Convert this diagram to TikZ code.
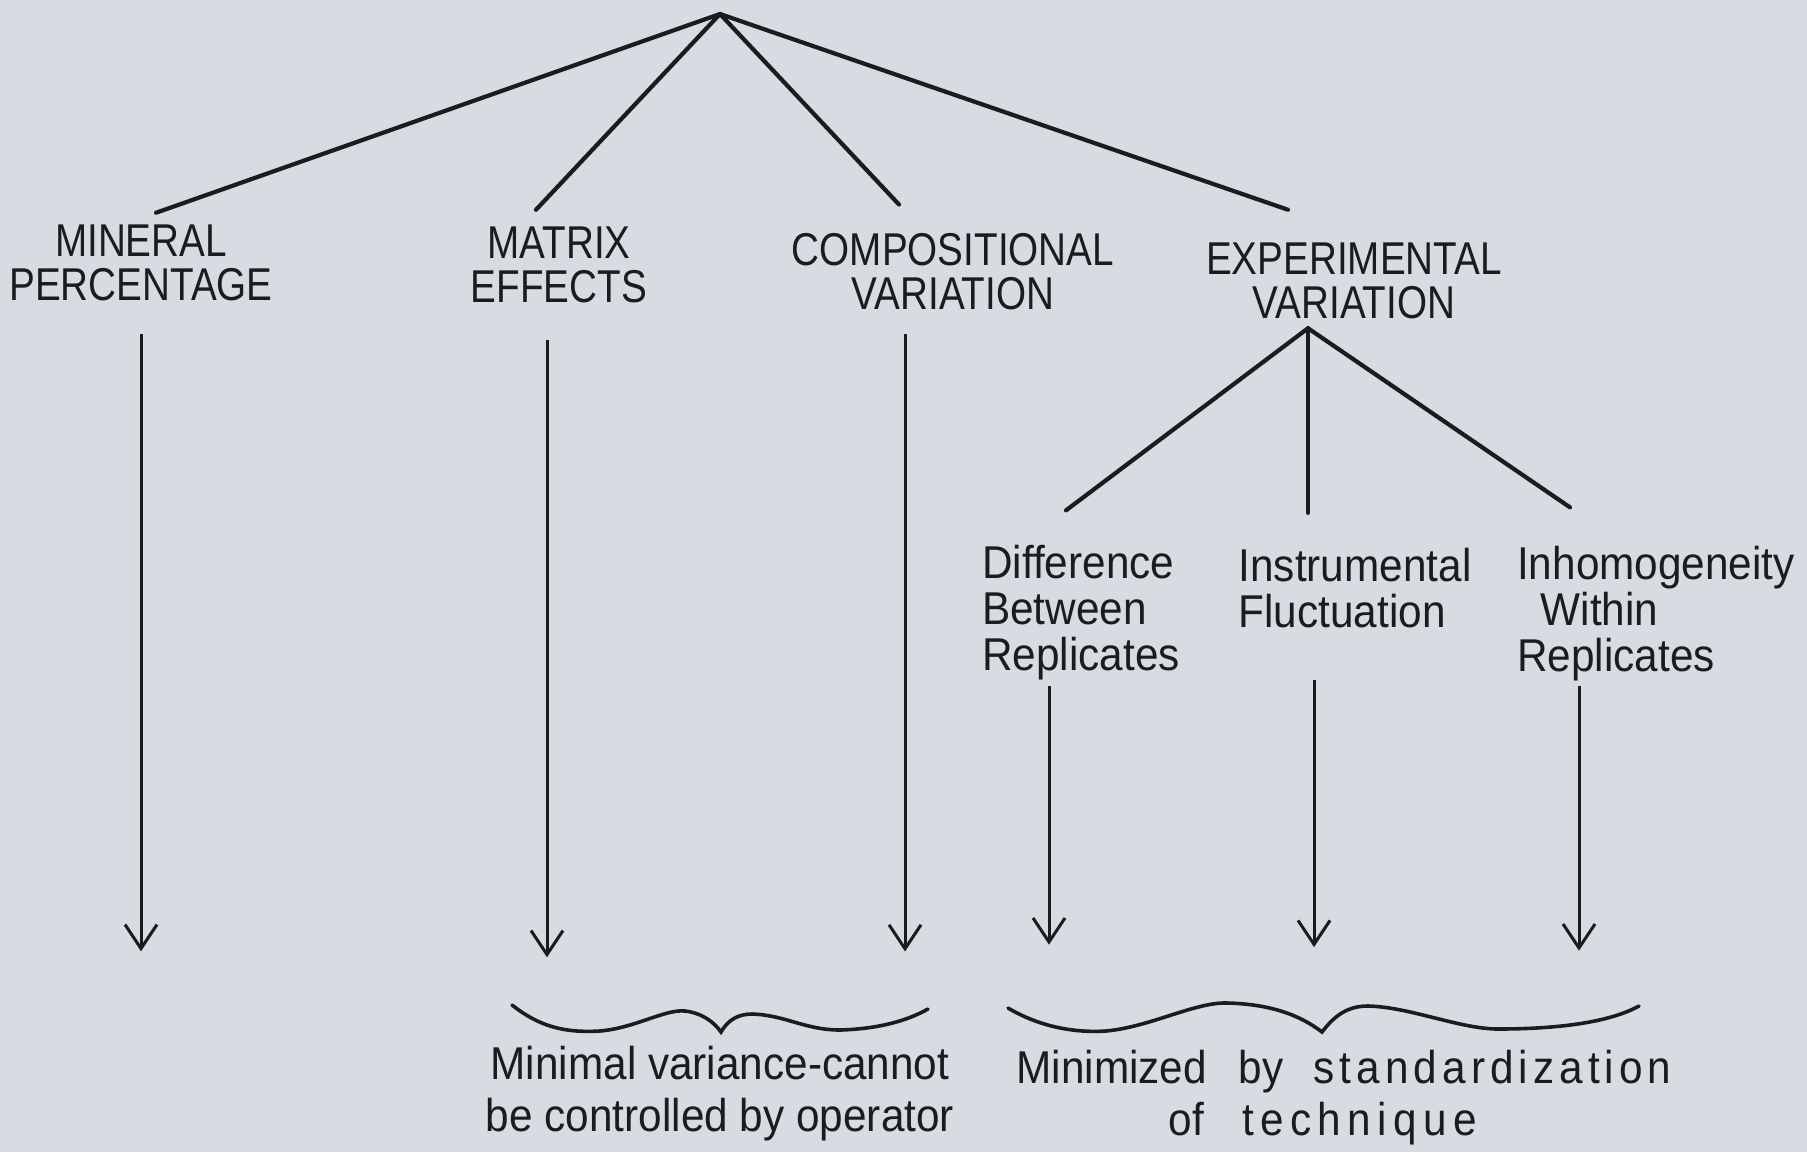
\documentclass[tikz,border=0pt]{standalone}
\usepackage{fontspec}
\newfontfamily\capsfont[FakeStretch=0.84]{Liberation Sans}
\newfontfamily\lowfont[FakeStretch=0.92]{Liberation Sans}
\newfontfamily\loosefont[FakeStretch=0.92,LetterSpace=11]{Liberation Sans}
\newfontfamily\looserfont[FakeStretch=0.92,LetterSpace=14]{Liberation Sans}
\usetikzlibrary{arrows.meta, positioning}
\definecolor{paper}{RGB}{215,220,226}
\definecolor{ink}{RGB}{28,28,30}
\tikzset{
  capslabel/.style={align=center,inner sep=0pt,text=ink,
    font=\capsfont\fontsize{46}{44}\selectfont},
  sublabel/.style={align=left,inner sep=0pt,text=ink,
    font=\lowfont\fontsize{46}{46}\selectfont},
  notelabel/.style={align=center,inner sep=0pt,text=ink,
    font=\lowfont\fontsize{46}{52}\selectfont},
  branch/.style={draw=ink,line width=4.2pt,line cap=round},
  arrow/.style={-{Straight Barb[length=24pt,width=32pt]},draw=ink,line width=3pt},
  bracket/.style={draw=ink,line width=3.6pt,line cap=round}
}
\begin{document}
\begin{tikzpicture}[x=1pt,y=-1pt]
  \fill[paper] (0,0) rectangle (1807,1152);

  % main tree
  \coordinate (top) at (720,14);
  \node[capslabel] (mineral) at (141,263) {MINERAL\\PERCENTAGE};
  \node[capslabel] (matrix) at (559,265) {MATRIX\\EFFECTS};
  \node[capslabel] (comp) at (953,272) {COMPOSITIONAL\\VARIATION};
  \node[capslabel] (exper) at (1354,281) {EXPERIMENTAL\\VARIATION};

  \draw[branch] (top) -- ([xshift=15pt,yshift=12pt]mineral.north);
  \draw[branch] (top) -- ([xshift=-23pt,yshift=17pt]matrix.north);
  \draw[branch] (top) -- ([xshift=-54pt,yshift=29pt]comp.north);
  \draw[branch] (top) -- ([xshift=-66pt,yshift=33pt]exper.north);

  \draw[arrow] ([yshift=-33pt]mineral.south) -- ++(0,617);
  \draw[arrow] ([xshift=-12pt,yshift=-37pt]matrix.south) -- ++(0,617);
  \draw[arrow] ([xshift=-48pt,yshift=-24pt]comp.south) -- ++(0,617);

  % experimental variation
  \coordinate (split) at ([xshift=-46pt,yshift=-9pt]exper.south);
  \node[sublabel] (diff) at (1081,613) {Difference\\Between\\Replicates};
  \node[sublabel] (instr) at (1355,588) {Instrumental\\Fluctuation};
  \node[sublabel] (inhom) at (1656,614) {Inhomogeneity\\\ \ Within\\Replicates};

  \draw[branch] (split) -- ([xshift=-15pt,yshift=35pt]diff.north);
  \draw[branch] (split) -- ([xshift=-47pt,yshift=35pt]instr.north);
  \draw[branch] (split) -- ([xshift=-86pt,yshift=39pt]inhom.north);

  \draw[arrow] ([xshift=-32pt,yshift=-5pt]diff.south) -- ++(0,259);
  \draw[arrow] ([xshift=-41pt,yshift=-52pt]instr.south) -- ++(0,267);
  \draw[arrow] ([xshift=-77pt,yshift=-4pt]inhom.south) -- ++(0,265);

  % braces
  \draw[bracket] (512,1005) .. controls (540,1027) and (565,1033) .. (600,1031)
    .. controls (635,1028) and (665,1009) .. (685,1011)
    .. controls (702,1013) and (714,1022) .. (721,1032)
    .. controls (728,1020) and (738,1014) .. (752,1014)
    .. controls (785,1015) and (805,1030) .. (840,1030)
    .. controls (875,1029) and (905,1022) .. (928,1009);
  \draw[bracket] (1008,1008) .. controls (1040,1027) and (1075,1033) .. (1106,1031)
    .. controls (1150,1027) and (1195,1002) .. (1227,1003)
    .. controls (1270,1004) and (1300,1015) .. (1322,1032)
    .. controls (1335,1015) and (1348,1006) .. (1368,1006)
    .. controls (1410,1007) and (1460,1029) .. (1498,1029)
    .. controls (1560,1029) and (1610,1022) .. (1639,1006);

  \node[notelabel] (fixed) at (720,1094) {Minimal variance-cannot\\be controlled by operator};
  \node[notelabel] (std) at (1344,1098)
    {Minimized\hspace{32pt}by\hspace{30pt}{\loosefont standardization}\\
     of\hspace{38pt}{\looserfont technique}\hbox to 42pt{}};
\end{tikzpicture}
\end{document}
